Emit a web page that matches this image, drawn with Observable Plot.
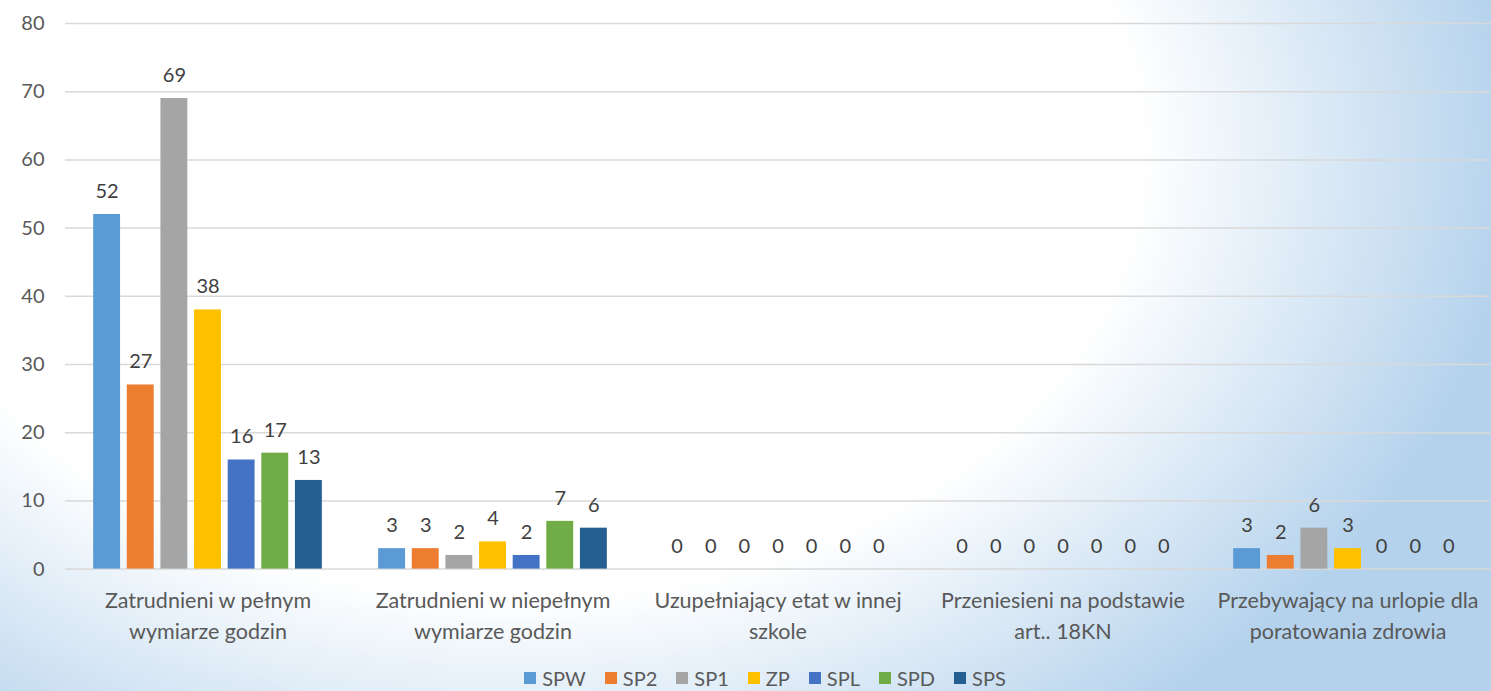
<!DOCTYPE html>
<html>
<head>
<meta charset="utf-8">
<script src="https://cdn.jsdelivr.net/npm/d3@7"></script>
<script src="https://cdn.jsdelivr.net/npm/@observablehq/plot@0.6"></script>
<style>
  html, body { margin: 0; padding: 0; }
  #wrap {
    position: relative; width: 1491px; height: 691px; overflow: hidden;
    font-family: Lato, "Open Sans", sans-serif;
    background:
      radial-gradient(ellipse 1000px 720px at 520px 150px, #ffffff 62%, #b4d2ec 100%);
  }
  #chart svg { display: block; background: transparent; }
  #legend {
    position: absolute; top: 667px; left: 0; width: 1530px;
    display: flex; justify-content: center; gap: 19px;
    font-size: 20px; color: #595959; line-height: 22px;
  }
  #legend span.item { display: inline-flex; align-items: center; }
  #legend span.sw { display: inline-block; width: 12px; height: 12px; margin-right: 6px; }
</style>
</head>
<body>
<div id="wrap">
  <div id="chart"></div>
  <div id="legend"></div>
</div>
<script>
const categories = [
  "Zatrudnieni w pełnym\nwymiarze godzin",
  "Zatrudnieni w niepełnym\nwymiarze godzin",
  "Uzupełniający etat w innej\nszkole",
  "Przeniesieni na podstawie\nart.. 18KN",
  "Przebywający na urlopie dla\nporatowania zdrowia"
];
const series = ["SPW", "SP2", "SP1", "ZP", "SPL", "SPD", "SPS"];
const colors = ["#5b9bd5", "#ed7d31", "#a5a5a5", "#ffc000", "#4472c4", "#70ad47", "#255e91"];
const SPW = [52, 3, 0, 0, 3];
const SP2 = [27, 3, 0, 0, 2];
const SP1 = [69, 2, 0, 0, 6];
const ZP  = [38, 4, 0, 0, 3];
const SPL = [16, 2, 0, 0, 0];
const SPD = [17, 7, 0, 0, 0];
const SPS = [13, 6, 0, 0, 0];
const yTicks = [0, 10, 20, 30, 40, 50, 60, 70, 80];

const valuesBySeries = {SPW, SP2, SP1, ZP, SPL, SPD, SPS};
const data = [];
categories.forEach((c, i) => {
  series.forEach(s => data.push({category: c, series: s, value: valuesBySeries[s][i]}));
});
const catData = categories.map(c => ({category: c}));

const font = "Lato, 'Open Sans', sans-serif";

const chart = Plot.plot({
  width: 1491,
  height: 660,
  marginLeft: 63,
  marginRight: 0,
  marginTop: 23,
  marginBottom: 91.4,
  style: {fontFamily: font, background: "transparent", overflow: "visible"},
  fx: {domain: categories, padding: 0, axis: null},
  x: {domain: series, paddingInner: 0.2, paddingOuter: 0.8375, round: false, axis: null},
  y: {domain: [0, 80], axis: null},
  color: {domain: series, range: colors},
  marks: [
    Plot.ruleY(yTicks, {stroke: "#d9d9d9", strokeWidth: 1.5}),
    Plot.axisY({ticks: yTicks, tickSize: 0, tickPadding: 21, fontSize: 20, fill: "#595959", label: null}),
    Plot.barY(data, {fx: "category", x: "series", y: "value", fill: "series"}),
    Plot.text(data, {fx: "category", x: "series", y: "value", text: d => String(d.value),
      dy: -23, fontSize: 20, fill: "#404040"}),
    Plot.text(catData, {fx: "category", y: 0, text: "category", frameAnchor: "middle",
      lineAnchor: "top", dy: 17, lineHeight: 1.45, fontSize: 21.5, fill: "#595959"})
  ]
});
document.getElementById("chart").appendChild(chart);

const legend = document.getElementById("legend");
series.forEach((s, i) => {
  const item = document.createElement("span");
  item.className = "item";
  const sw = document.createElement("span");
  sw.className = "sw";
  sw.style.background = colors[i];
  item.appendChild(sw);
  item.appendChild(document.createTextNode(s));
  legend.appendChild(item);
});
</script>
</body>
</html>
